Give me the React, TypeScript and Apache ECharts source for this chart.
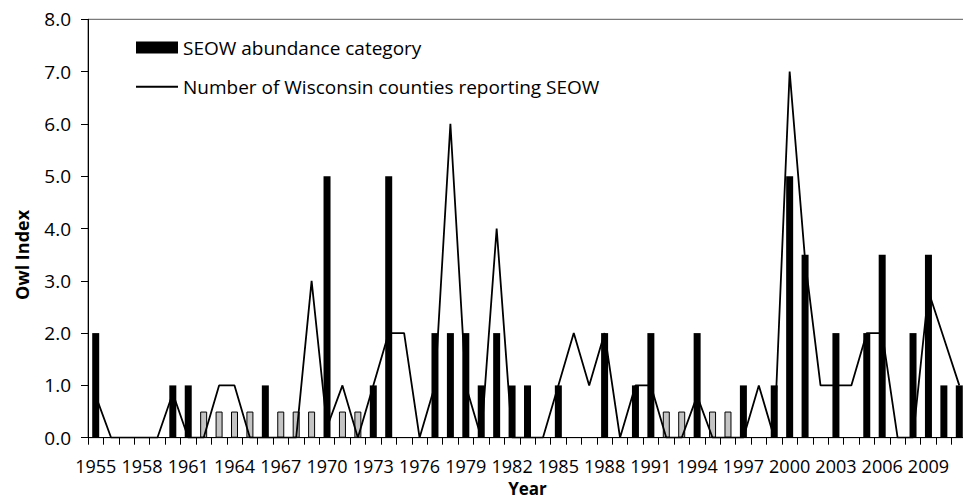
import React, { useEffect, useRef } from "react";
import * as echarts from "echarts";

const years: string[] = [
  "1955", "1956", "1957", "1958", "1959", "1960", "1961", "1962", "1963", "1964",
  "1965", "1966", "1967", "1968", "1969", "1970", "1971", "1972", "1973", "1974",
  "1975", "1976", "1977", "1978", "1979", "1980", "1981", "1982", "1983", "1984",
  "1985", "1986", "1987", "1988", "1989", "1990", "1991", "1992", "1993", "1994",
  "1995", "1996", "1997", "1998", "1999", "2000", "2001", "2002", "2003", "2004",
  "2005", "2006", "2007", "2008", "2009", "2010", "2011",
];

// SEOW abundance category (null = no bar); 0.5 values are drawn grey
const abundance: (number | null)[] = [
  2, null, null, null, null, 1, 1, 0.5, 0.5, 0.5,
  0.5, 1, 0.5, 0.5, 0.5, 5, 0.5, 0.5, 1, 5,
  null, null, 2, 2, 2, 1, 2, 1, 1, null,
  1, null, null, 2, null, 1, 2, 0.5, 0.5, 2,
  0.5, 0.5, 1, null, 1, 5, 3.5, null, 2, null,
  2, 3.5, null, 2, 3.5, 1, 1,
];

// Number of Wisconsin counties reporting SEOW (index scale)
const counties: number[] = [
  0.8, 0, 0, 0, 0, 0.85, 0, 0, 1, 1,
  0, 0, 0, 0, 3, 0.2, 1, 0, 1, 2,
  2, 0, 1, 6, 1, 0, 4, 0, 0, 0,
  1, 2, 1, 2, 0, 1, 1, 0, 0, 0.8,
  0, 0, 0, 1, 0, 7, 3.4, 1, 1, 1,
  2, 2, 0, 0, 2.8, 1.9, 1,
];

const FONT = "'Open Sans', sans-serif";

export default function App() {
  const ref = useRef<HTMLDivElement>(null);

  useEffect(() => {
    if (!ref.current) return;
    const chart = echarts.init(ref.current, undefined, { renderer: "svg" });

    const barData = abundance.map((v) =>
      v === null
        ? null
        : v === 0.5
        ? { value: v, itemStyle: { color: "#c4c4c4", borderColor: "#000", borderWidth: 1 } }
        : { value: v, itemStyle: { color: "#000" } }
    );

    chart.setOption({
      animation: false,
      backgroundColor: "#fff",
      textStyle: { fontFamily: FONT },
      grid: {
        left: 88,
        right: -4,
        top: 19.3,
        bottom: 62.3,
        outerBoundsMode: "none",
        containLabel: false,
        show: true,
        borderColor: "#595959",
        borderWidth: 1,
        backgroundColor: "transparent",
      },
      legend: {
        orient: "vertical",
        left: 135,
        top: 36.5,
        padding: 0,
        itemWidth: 42,
        itemHeight: 12,
        itemGap: 17.2,
        textStyle: { fontFamily: FONT, fontSize: 19, color: "#000", lineHeight: 22 },
        data: [
          { name: "SEOW abundance category", icon: "rect" },
          { name: "Number of Wisconsin counties reporting SEOW", itemStyle: { opacity: 0 } },
        ],
      },
      xAxis: {
        type: "category",
        data: years,
        boundaryGap: true,
        name: "Year",
        nameLocation: "middle",
        nameGap: 39,
        nameTextStyle: {
          fontFamily: FONT,
          fontSize: 17,
          lineHeight: 18,
          fontWeight: "bold",
          color: "#000",
        },
        axisLine: { show: true, lineStyle: { color: "#000", width: 1 } },
        axisTick: { show: true, interval: 0, length: 7, lineStyle: { color: "#000" } },
        axisLabel: { interval: 2, fontFamily: FONT, fontSize: 18, color: "#000", margin: 19 },
        splitLine: { show: false },
      },
      yAxis: {
        type: "value",
        min: 0,
        max: 8,
        interval: 1,
        axisLine: { show: true, lineStyle: { color: "#000", width: 1 } },
        axisTick: { show: true, length: 7, lineStyle: { color: "#000" } },
        axisLabel: {
          fontFamily: FONT,
          fontSize: 19,
          color: "#000",
          margin: 17,
          formatter: (v: number) => v.toFixed(1),
        },
        splitLine: { show: false },
      },
      graphic: [
        {
          type: "text",
          x: 22,
          y: 255,
          rotation: Math.PI / 2,
          style: {
            text: "Owl Index",
            fontFamily: FONT,
            fontSize: 18,
            fontWeight: "bold",
            fill: "#000",
            textAlign: "center",
            textVerticalAlign: "middle",
          },
        },
      ],
      series: [
        {
          name: "SEOW abundance category",
          type: "bar",
          data: barData,
          barWidth: 7,
          itemStyle: { color: "#000" },
        },
        {
          name: "Number of Wisconsin counties reporting SEOW",
          type: "line",
          data: counties,
          symbol: "none",
          lineStyle: { color: "#000", width: 1.8 },
          itemStyle: { color: "#000" },
          z: 3,
        },
      ],
    });

    return () => chart.dispose();
  }, []);

  return (
    <div
      ref={ref}
      style={{ position: "fixed", left: 0, top: 0, width: 963, height: 500, overflow: "hidden" }}
    />
  );
}
